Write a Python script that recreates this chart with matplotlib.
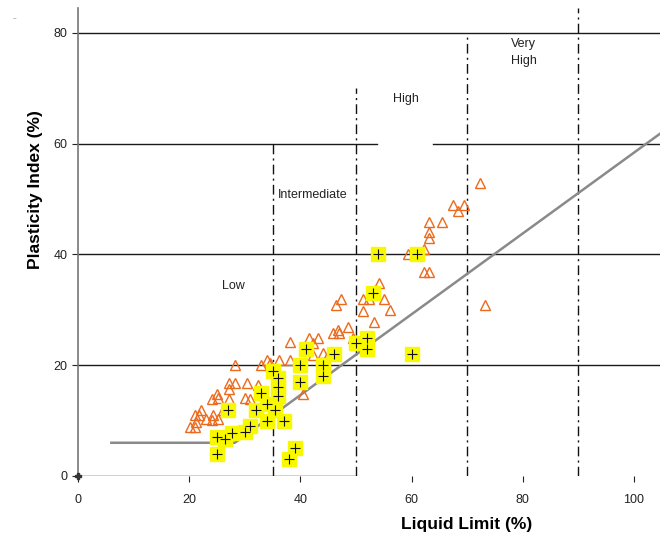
"""
Plasticity chart: liquid limit vs plasticity index,
with A-line and plasticity zone boundaries.
"""

import matplotlib
matplotlib.use("Agg")
import matplotlib.pyplot as plt

# ###########################################################
# Data
# ###########################################################

# samples drawn as open orange triangles (liquid limit, plasticity index)
tri_ll = [20.2, 21.1, 21.3, 21.1, 21.8, 22.2, 23.0, 24.1, 24.3, 25.2,
          24.1, 25.0, 25.2, 26.1, 27.2, 27.2, 27.2, 28.3, 28.3, 30.1,
          31.0, 30.4, 32.3, 33.0, 34.0, 34.6, 36.2, 38.2, 38.2, 40.4,
          41.5, 42.2, 43.2, 42.3, 44.1, 45.2, 44.5, 44.5, 41.3, 45.8,
          46.7, 47.0, 48.5, 49.4, 46.5, 47.4, 51.2, 52.3, 51.2, 53.3,
          54.2, 55.1, 56.2, 59.3, 62.2, 62.2, 63.2, 63.2, 63.2, 63.2,
          65.4, 67.4, 69.4, 68.3, 72.3, 73.3]
tri_pi = [8.8, 8.8, 9.7, 11.0, 11.0, 11.9, 10.3, 10.1, 11.0, 10.3,
          13.9, 14.8, 14.1, 11.9, 13.9, 15.7, 16.8, 16.8, 20.0, 14.1,
          13.9, 16.8, 16.4, 20.0, 21.0, 20.4, 20.9, 20.9, 24.2, 14.8,
          24.9, 24.0, 24.9, 21.8, 22.2, 22.2, 20.0, 18.0, 23.0, 25.8,
          26.4, 25.8, 26.9, 25.0, 30.9, 32.0, 32.0, 32.0, 29.8, 27.8,
          34.8, 32.0, 30.0, 40.0, 41.0, 36.8, 36.8, 43.0, 44.0, 45.8,
          45.8, 48.9, 48.9, 47.8, 52.9, 30.9]

# samples drawn as yellow squares with a plus
sq_ll = [25.0, 25.0, 26.5, 27.7, 27.0, 30.0, 31.0, 32.0, 33.0, 34.0,
         34.0, 35.5, 36.0, 36.0, 36.0, 37.0, 35.0, 38.0, 39.0, 40.0,
         40.0, 41.0, 44.0, 44.0, 46.0, 50.0, 52.0, 52.0, 53.0, 54.0,
         61.0, 60.0]
sq_pi = [4.0, 7.0, 6.7, 7.8, 12.0, 8.0, 9.0, 12.0, 15.0, 13.0,
         10.0, 12.0, 14.5, 17.7, 16.0, 10.0, 19.0, 3.0, 5.0, 20.0,
         17.0, 23.0, 20.0, 18.0, 22.0, 24.0, 25.0, 23.0, 33.0, 40.0,
         40.0, 22.0]

# A-line (with the low horizontal part)
aline_ll = [6.0, 28.2, 104.7]
aline_pi = [6.0, 6.0, 61.8]

# zone boundaries: liquid limit and the PI where each one stops
bound_ll = [35, 50, 70, 90]
bound_top = [60, 70, 80, 84.5]

# horizontal lines: (PI, start LL, end LL)
hlines = [(0, 0, 50), (20, 0, 104.7), (40, 0, 104.7),
          (60, 0, 53.7), (60, 63.8, 104.7), (80, 0, 104.7)]

# zone names and where they sit
zone_names = ["Low", "Intermediate", "High", "Very\nHigh"]
zone_ll = [28.0, 42.3, 59.0, 80.2]
zone_pi = [34.3, 50.7, 68.0, 76.5]

xticks = [0, 20, 40, 60, 80, 100]
yticks = [0, 20, 40, 60, 80]

# ###########################################################
# Figure
# ###########################################################

plt.rcParams["font.family"] = ["Liberation Sans", "DejaVu Sans"]

fig = plt.figure(figsize=(6.65, 5.37), dpi=100)
ax = fig.add_axes([78 / 665, 61 / 537, 582 / 665, 468 / 537])
ax.set_xlim(0, 104.7)
ax.set_ylim(0, 84.5)

# horizontal lines
for (pi, l0, l1) in hlines:
    ax.plot([l0, l1], [pi, pi], color="#1a1a1a", lw=1.0, zorder=1)

# zone boundaries
for (ll, top) in zip(bound_ll, bound_top):
    ax.plot([ll, ll], [0, top], color="#111111", lw=1.0,
            linestyle=(0, (7, 3, 1.5, 3)), zorder=1)

# A-line
ax.plot(aline_ll, aline_pi, color="#8a8a8a", lw=1.8, zorder=2)

# samples
ax.plot(tri_ll, tri_pi, linestyle="none", marker="^", markersize=6.5,
        markerfacecolor="none", markeredgecolor="#ec6a1e",
        markeredgewidth=1.0, zorder=3)
ax.plot(sq_ll, sq_pi, linestyle="none", marker="s", markersize=9.5,
        markerfacecolor="#f8f800", markeredgecolor="#f8f800", zorder=4)
ax.plot(sq_ll, sq_pi, linestyle="none", marker="+", markersize=7.5,
        color="#111111", markeredgewidth=0.8, zorder=5)

# origin marker
ax.plot([0], [0], linestyle="none", marker="P", markersize=5,
        color="#333333", clip_on=False, zorder=6)

# zone labels
for (name, ll, pi) in zip(zone_names, zone_ll, zone_pi):
    ax.text(ll, pi, name, fontsize=9, ha="center", va="center",
            color="#222222", linespacing=1.5)

# axes style
for side in ["top", "right", "bottom"]:
    ax.spines[side].set_visible(False)
ax.spines["left"].set_color("#777777")
ax.spines["left"].set_linewidth(1.2)

ax.set_xticks(xticks)
ax.set_yticks(yticks)
ax.tick_params(axis="both", labelsize=9, colors="#222222", length=4,
               width=0.8)
ax.tick_params(axis="x", pad=9)

ax.set_xlabel("Liquid Limit (%)", fontsize=12.5, fontweight="bold")
ax.set_ylabel("Plasticity Index (%)", fontsize=12.5, fontweight="bold")
ax.xaxis.set_label_coords(0.667, -0.088)
ax.yaxis.set_label_coords(-0.06, 0.611)

# small mark in the top-left corner
fig.text(15 / 665, 1 - 19 / 537, "--", fontsize=5, color="#999999",
         ha="center", va="center")

fig.savefig("out.png", dpi=100)
